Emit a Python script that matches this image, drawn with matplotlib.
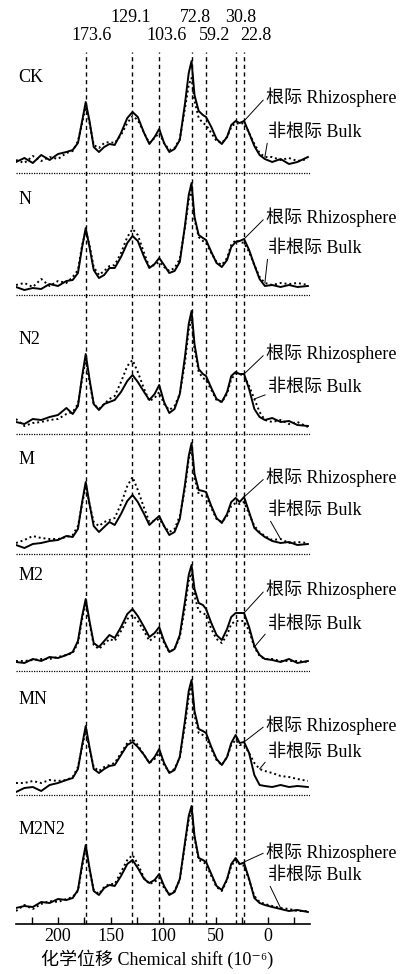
import numpy as np
import matplotlib
matplotlib.use('Agg')
import matplotlib.pyplot as plt

plt.rcParams['font.family'] = ['Liberation Serif', 'Noto Sans CJK SC', 'DejaVu Sans']
plt.rcParams['font.size'] = 13

# 化学位移 (10^-6)
shift = [240, 232, 224, 216, 208, 200, 192, 186, 181, 177,
         173.6, 170, 166, 161, 156, 151, 146, 140, 134, 129,
         124, 118, 113, 108, 103.6, 99, 94, 89, 84, 79,
         75.5, 72.8, 70, 66, 62, 59, 54, 49, 44, 39,
         35, 30.8, 27, 22.8, 18, 13, 8, 3, -4, -12,
         -20, -28, -38]

# 信号强度 (相对各自基线)
ck_rhizo = [11, 15, 10, 18, 13, 19, 21, 23, 30, 52,
            71, 52, 26, 21, 26, 29, 28, 40, 55, 61,
            56, 40, 29, 36, 44, 30, 21, 24, 33, 70,
            100, 112, 78, 62, 58, 56, 46, 34, 29, 36,
            48, 52, 50, 52, 40, 27, 18, 14, 11, 14,
            9, 11, 16]
ck_bulk = [13, 10, 17, 12, 16, 14, 20, 22, 32, 50,
           66, 50, 28, 25, 30, 31, 30, 38, 50, 57,
           53, 40, 30, 35, 40, 30, 23, 25, 34, 65,
           88, 95, 72, 55, 50, 48, 40, 32, 30, 36,
           46, 50, 49, 50, 40, 29, 20, 16, 16, 13,
           15, 12, 14]
n_rhizo = [8, 5, 7, 6, 11, 9, 14, 15, 22, 48,
           67, 48, 25, 17, 20, 27, 27, 38, 52, 59,
           54, 38, 27, 31, 37, 30, 22, 24, 33, 70,
           100, 112, 78, 60, 57, 55, 43, 32, 28, 35,
           48, 53, 54, 56, 45, 30, 16, 9, 10, 8,
           10, 8, 9]
n_bulk = [10, 12, 8, 16, 9, 14, 12, 18, 25, 50,
          64, 50, 28, 20, 24, 29, 30, 42, 58, 66,
          60, 42, 28, 30, 33, 28, 24, 27, 36, 68,
          95, 105, 76, 58, 54, 52, 42, 33, 30, 37,
          50, 55, 53, 52, 43, 30, 18, 12, 10, 12,
          11, 12, 10]
n2_rhizo = [12, 10, 15, 14, 17, 19, 26, 20, 28, 58,
            80, 55, 30, 24, 30, 32, 34, 42, 53, 59,
            52, 42, 34, 40, 49, 32, 21, 25, 40, 78,
            110, 123, 90, 65, 60, 58, 46, 35, 32, 42,
            58, 62, 60, 60, 45, 25, 17, 14, 16, 12,
            13, 9, 8]
n2_bulk = [15, 8, 11, 12, 14, 15, 20, 22, 30, 55,
           75, 52, 30, 25, 30, 35, 38, 52, 68, 74,
           62, 45, 33, 36, 42, 30, 24, 28, 40, 72,
           104, 115, 85, 62, 56, 54, 44, 34, 32, 40,
           55, 60, 60, 58, 48, 35, 22, 14, 12, 14,
           10, 12, 7]
m_rhizo = [9, 6, 10, 11, 13, 14, 18, 17, 25, 52,
           72, 50, 28, 22, 27, 32, 29, 40, 53, 59,
           52, 40, 29, 34, 38, 28, 19, 22, 35, 70,
           98, 111, 80, 64, 63, 62, 48, 36, 31, 40,
           52, 56, 52, 57, 42, 26, 21, 17, 13, 11,
           12, 9, 10]
m_bulk = [11, 14, 18, 16, 15, 15, 17, 19, 28, 50,
          68, 50, 32, 28, 32, 34, 36, 50, 68, 77,
          64, 46, 32, 33, 35, 28, 22, 25, 38, 66,
          95, 105, 76, 60, 58, 58, 46, 35, 32, 38,
          48, 51, 50, 52, 40, 28, 22, 18, 14, 15,
          11, 12, 11]
m2_rhizo = [9, 8, 12, 10, 14, 13, 16, 19, 30, 55,
            72, 50, 28, 24, 30, 36, 33, 44, 57, 62,
            55, 44, 34, 38, 44, 30, 19, 22, 36, 70,
            96, 106, 82, 68, 66, 62, 48, 36, 31, 42,
            54, 58, 58, 58, 44, 25, 16, 12, 11, 9,
            12, 8, 10]
m2_bulk = [10, 10, 11, 12, 12, 14, 16, 18, 28, 52,
           68, 48, 26, 22, 27, 32, 30, 40, 52, 56,
           50, 40, 30, 34, 40, 28, 19, 22, 34, 64,
           90, 98, 75, 60, 58, 56, 42, 32, 28, 36,
           47, 50, 50, 50, 40, 24, 15, 12, 12, 10,
           10, 10, 9]
mn_rhizo = [3, 7, 8, 4, 10, 12, 15, 17, 26, 50,
            69, 48, 26, 22, 26, 29, 30, 40, 50, 53,
            48, 40, 32, 38, 46, 32, 22, 25, 38, 75,
            104, 115, 84, 66, 64, 62, 48, 36, 30, 38,
            52, 60, 52, 53, 42, 20, 10, 9, 8, 10,
            8, 9, 8]
mn_bulk = [12, 12, 14, 12, 15, 14, 15, 18, 28, 48,
           64, 46, 28, 24, 28, 30, 32, 42, 52, 56,
           50, 40, 32, 36, 42, 30, 23, 26, 38, 70,
           98, 108, 80, 62, 60, 58, 46, 35, 30, 38,
           50, 55, 50, 50, 42, 32, 26, 24, 22, 19,
           18, 16, 14]
m2n2_rhizo = [16, 18, 17, 22, 21, 25, 24, 26, 34, 60,
              79, 56, 33, 29, 36, 39, 38, 48, 60, 64,
              56, 45, 41, 44, 50, 38, 29, 32, 45, 82,
              108, 118, 88, 66, 64, 62, 50, 38, 34, 45,
              60, 66, 60, 61, 45, 26, 21, 19, 17, 15,
              13, 14, 12]
m2n2_bulk = [13, 19, 15, 20, 23, 22, 25, 27, 33, 57,
             76, 54, 34, 30, 37, 40, 40, 52, 64, 69,
             60, 46, 40, 42, 46, 36, 30, 33, 44, 80,
             104, 114, 86, 64, 62, 60, 48, 37, 33, 44,
             58, 64, 60, 58, 44, 28, 22, 20, 18, 16,
             15, 13, 13]

samples = ['CK', 'N', 'N2', 'M', 'M2', 'MN', 'M2N2']
rhizo = [ck_rhizo, n_rhizo, n2_rhizo, m_rhizo, m2_rhizo, mn_rhizo, m2n2_rhizo]
bulk = [ck_bulk, n_bulk, n2_bulk, m_bulk, m2_bulk, mn_bulk, m2n2_bulk]

peaks = [173.6, 129.1, 103.6, 72.8, 59.2, 30.8, 22.8]
peak_labels = ['173.6', '129.1', '103.6', '72.8', '59.2', '30.8', '22.8']

# 版面 (与数据无关)
baseline = [751, 629, 490, 370, 253, 129, 0]
rhizo_text_y = [76, 78, 81, 77, 82, 70, 72]
bulk_text_y = [41, 47, 47, 44, 47, 43, 49]
rhizo_target = [22.8, 22.8, 22.8, 22.8, 22.8, 22.8, 27]
bulk_target = [3, 3, 13, -12, 13, 8, -12]
label_x = [167.6, 130.5, 97, 69.5, 50.5, 25.7, 11.4]
label_row = [1, 0, 1, 0, 1, 0, 1]

shift = np.array(shift)

fig = plt.figure(figsize=(4.04, 9.74), dpi=100)
ax = fig.add_axes([16 / 404, 50 / 974, 294 / 404, 924 / 974])
ax.set_xlim(240, -40)
ax.set_ylim(0, 924)

# 峰位虚线
ax.vlines(peaks, 0, 872, colors='black', linestyles=(0, (3, 2.5)), linewidth=1.0)
for p, lab, lx, row in zip(peaks, peak_labels, label_x, label_row):
    ax.text(lx, 906 - 17 * row, lab, ha='center', va='center', fontsize=13)

for i, name in enumerate(samples):
    b = baseline[i]
    r = b + np.array(rhizo[i])
    k = b + np.array(bulk[i])
    ax.plot(shift, r, color='black', lw=1.4, solid_joinstyle='round')
    ax.plot(shift, k, color='black', lw=1.4, linestyle=(0, (1, 1.5)))
    if b > 0:
        ax.plot([240, -40], [b, b], color='black', lw=0.9, linestyle=(0, (1, 1)))
    ax.text(238, b + 95, name, ha='left', va='center', fontsize=13)

    ir = int(np.argmin(np.abs(shift - rhizo_target[i])))
    ax.annotate('根际 Rhizosphere', xy=(shift[ir], r[ir]),
                xytext=(1.9, b + rhizo_text_y[i]), ha='left', va='center',
                fontsize=13,
                arrowprops=dict(arrowstyle='-', lw=0.7, color='black',
                                relpos=(0, 0.5), shrinkA=0, shrinkB=0))
    ib = int(np.argmin(np.abs(shift - bulk_target[i])))
    ax.annotate('非根际 Bulk', xy=(shift[ib], k[ib]),
                xytext=(0, b + bulk_text_y[i]), ha='left', va='center',
                fontsize=13,
                arrowprops=dict(arrowstyle='-', lw=0.7, color='black',
                                relpos=(0, 0.1), shrinkA=0, shrinkB=0))

for s in ['top', 'left', 'right']:
    ax.spines[s].set_visible(False)
ax.spines['bottom'].set_linewidth(1.2)
ax.set_yticks([])
ax.set_xticks([200, 150, 100, 50, 0])
ax.set_xticks([225, 175, 125, 75, 25, -25], minor=True)
ax.tick_params(axis='x', which='both', direction='in', length=5, width=1, labelsize=13, pad=3)
ax.set_xlabel('化学位移 Chemical shift (10⁻⁶)', fontsize=13)
ax.xaxis.set_label_coords(0.48, -0.028)

fig.savefig('out.png', dpi=100)
